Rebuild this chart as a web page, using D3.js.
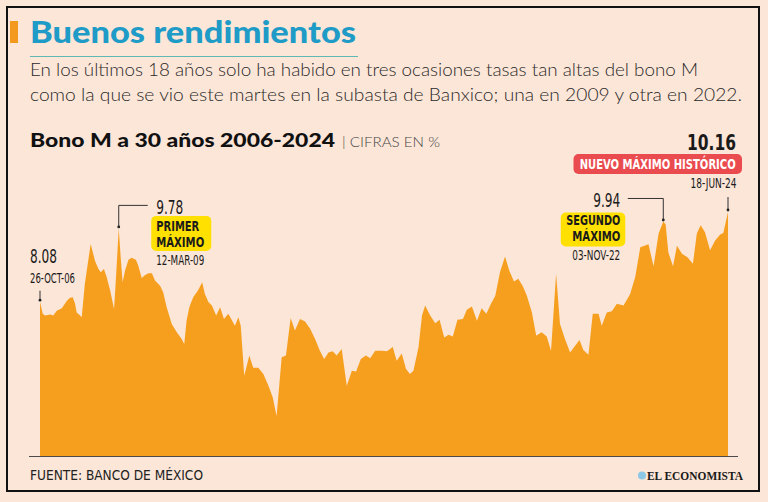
<!DOCTYPE html>
<html lang="es">
<head>
<meta charset="utf-8">
<title>Buenos rendimientos</title>
<script src="https://d3js.org/d3.v7.min.js"></script>
<style>
  body { margin: 0; background: #fce6d8; }
  svg { display: block; }
</style>
</head>
<body>
<script>
// Bono M a 30 años, rendimiento en subasta (%)
var years = [2006.82, 2006.89, 2006.95, 2007.08, 2007.16, 2007.25, 2007.38, 2007.51, 2007.59, 2007.66,
  2007.72, 2007.76, 2007.85, 2007.89, 2007.97, 2008.12, 2008.23, 2008.32, 2008.38, 2008.46,
  2008.53, 2008.62, 2008.72, 2008.77, 2008.84, 2008.89, 2008.94, 2009.00, 2009.09, 2009.17,
  2009.28, 2009.34, 2009.43, 2009.51, 2009.60, 2009.69, 2009.77, 2009.90, 2009.98, 2010.07,
  2010.20, 2010.33, 2010.46, 2010.52, 2010.58, 2010.65, 2010.75, 2010.88, 2010.98, 2011.05,
  2011.14, 2011.23, 2011.34, 2011.44, 2011.54, 2011.65, 2011.75, 2011.82, 2011.91, 2011.97,
  2012.06, 2012.19, 2012.29, 2012.42, 2012.55, 2012.68, 2012.79, 2012.89, 2013.02, 2013.13,
  2013.25, 2013.36, 2013.49, 2013.62, 2013.75, 2013.88, 2014.00, 2014.11, 2014.22, 2014.33,
  2014.43, 2014.56, 2014.69, 2014.82, 2014.93, 2015.05, 2015.18, 2015.29, 2015.42, 2015.59,
  2015.72, 2015.87, 2015.97, 2016.10, 2016.21, 2016.31, 2016.40, 2016.53, 2016.62, 2016.70,
  2016.83, 2016.96, 2017.07, 2017.19, 2017.30, 2017.41, 2017.53, 2017.67, 2017.77, 2017.90,
  2018.03, 2018.15, 2018.27, 2018.39, 2018.50, 2018.62, 2018.75, 2018.86, 2018.98, 2019.09,
  2019.21, 2019.31, 2019.44, 2019.55, 2019.69, 2019.82, 2019.93, 2020.06, 2020.16, 2020.29,
  2020.42, 2020.52, 2020.66, 2020.76, 2020.89, 2021.00, 2021.15, 2021.23, 2021.36, 2021.49,
  2021.62, 2021.79, 2021.96, 2022.09, 2022.22, 2022.43, 2022.56, 2022.69, 2022.81, 2022.87,
  2022.94, 2023.06, 2023.16, 2023.29, 2023.43, 2023.57, 2023.67, 2023.77, 2023.88, 2024.01,
  2024.14, 2024.27, 2024.35, 2024.47];

var yields = [8.08, 7.80, 7.76, 7.78, 7.76, 7.87, 7.93, 8.10, 8.17, 8.18,
  8.03, 7.83, 7.76, 7.72, 8.49, 9.42, 9.03, 8.84, 8.76, 8.84,
  8.65, 8.34, 7.91, 8.65, 9.78, 9.11, 8.53, 8.80, 9.05, 9.10,
  9.05, 8.92, 8.63, 8.69, 8.74, 8.74, 8.57, 8.45, 8.30, 7.95,
  7.56, 7.37, 7.21, 7.10, 7.64, 7.95, 8.18, 8.35, 8.53, 8.26,
  8.07, 7.99, 7.76, 7.95, 7.68, 7.80, 7.64, 7.52, 7.72, 7.52,
  6.36, 6.83, 6.55, 6.55, 6.40, 6.13, 5.86, 5.43, 6.79, 6.83,
  7.70, 7.41, 7.68, 7.62, 7.45, 7.21, 6.94, 6.75, 6.90, 6.93,
  6.83, 6.98, 6.13, 6.48, 6.46, 6.75, 6.83, 6.77, 6.94, 6.94,
  6.93, 7.03, 6.71, 6.88, 6.52, 6.40, 6.48, 7.02, 7.76, 7.99,
  7.76, 7.58, 7.66, 7.25, 7.31, 7.27, 7.66, 7.68, 7.89, 7.97,
  7.64, 7.93, 7.80, 8.03, 8.22, 8.76, 9.13, 8.80, 8.55, 8.61,
  8.43, 8.22, 7.83, 7.29, 7.37, 7.27, 6.94, 8.73, 7.56, 7.21,
  6.90, 7.02, 7.19, 6.96, 6.85, 7.80, 7.80, 7.52, 7.83, 7.86,
  8.03, 7.99, 8.26, 8.65, 9.34, 9.41, 8.90, 9.66, 9.94, 9.87,
  9.22, 8.90, 9.38, 9.19, 9.11, 8.96, 9.66, 9.85, 9.69, 9.27,
  9.50, 9.64, 9.67, 10.16];

// puntos destacados (índice en la serie)
var markIdx = [0, 24, 148, 163];
var markDates = ["26-OCT-06", "12-MAR-09", "03-NOV-22", "18-JUN-24"];
var markTags = [[], ["PRIMER", "MÁXIMO"], ["SEGUNDO", "MÁXIMO"], ["NUEVO MÁXIMO HISTÓRICO"]];

var title = "Buenos rendimientos";
var intro = ["En los últimos 18 años solo ha habido en tres ocasiones tasas tan altas del bono M",
  "como la que se vio este martes en la subasta de Banxico; una en 2009 y otra en 2022."];
var chartTitle = "Bono M a 30 años 2006-2024";
var units = "| CIFRAS EN %";
var source = "FUENTE: BANCO DE MÉXICO";
var brand = "EL ECONOMISTA";

var width = 768, height = 502;
var narrow = "'Liberation Sans Narrow', 'DejaVu Sans Condensed', Roboto, sans-serif";
var geo = "Lato, 'Open Sans', sans-serif";
var fmt = d3.format(".2f");

var svg = d3.select("body").append("svg")
  .attr("width", width).attr("height", height);

svg.append("rect").attr("width", width).attr("height", height).attr("fill", "#fce6d8");
svg.append("rect")
  .attr("x", 7).attr("y", 7).attr("width", 752).attr("height", 484)
  .attr("fill", "#fce6d8").attr("stroke", "#111").attr("stroke-width", 2);

// encabezado
svg.append("rect").attr("x", 10).attr("y", 21).attr("width", 8).attr("height", 22).attr("fill", "#f39a1e");
svg.append("text").text(title)
  .attr("x", 30).attr("y", 43)
  .attr("font-family", geo).attr("font-weight", 900).attr("font-size", 29.5)
  .attr("fill", "#1e9bc6")
  .attr("textLength", 326).attr("lengthAdjust", "spacingAndGlyphs");
svg.append("line").attr("x1", 30).attr("x2", 358).attr("y1", 56.5).attr("y2", 56.5)
  .attr("stroke", "#5fb8b4").attr("stroke-width", 1);

svg.selectAll(".intro").data(intro).enter().append("text")
  .attr("class", "intro")
  .text(function(d) { return d; })
  .attr("x", 30).attr("y", function(d, i) { return 76 + i * 24.5; })
  .attr("font-family", geo).attr("font-weight", 300).attr("font-size", 18)
  .attr("fill", "#2a2a2a")
  .attr("textLength", function(d, i) { return i == 0 ? 668 : 712; })
  .attr("lengthAdjust", "spacingAndGlyphs");

svg.append("text").text(chartTitle)
  .attr("x", 30).attr("y", 147)
  .attr("font-family", geo).attr("font-weight", 900).attr("font-size", 18.5)
  .attr("fill", "#111")
  .attr("textLength", 305).attr("lengthAdjust", "spacingAndGlyphs");
svg.append("text").text(units)
  .attr("x", 342).attr("y", 147)
  .attr("font-family", geo).attr("font-weight", 300).attr("font-size", 14)
  .attr("fill", "#444")
  .attr("textLength", 98).attr("lengthAdjust", "spacingAndGlyphs");

// escalas
var x = d3.scaleLinear().domain([years[0], years[years.length - 1]]).range([40, 728]);
var y = d3.scaleLinear().domain([4.5, 10.16]).range([456, 212]);

var area = d3.area()
  .x(function(d, i) { return x(years[i]); })
  .y0(y(4.5))
  .y1(function(d) { return y(d); });

svg.append("path").datum(yields)
  .attr("d", area)
  .attr("fill", "#f69f1f");

svg.append("line").attr("x1", 29).attr("x2", 738).attr("y1", 456.5).attr("y2", 456.5)
  .attr("stroke", "#4a4a4a").attr("stroke-width", 1);

// anotaciones
function label(txt, px, py, anchor, size, weight, len, color) {
  return svg.append("text").text(txt)
    .attr("x", px).attr("y", py)
    .attr("text-anchor", anchor)
    .attr("font-family", narrow).attr("font-size", size).attr("font-weight", weight)
    .attr("fill", color || "#1a1a1a")
    .attr("textLength", len).attr("lengthAdjust", "spacingAndGlyphs");
}
function dot(px, py) {
  svg.append("circle").attr("cx", px).attr("cy", py).attr("r", 1.4).attr("fill", "#222");
}
function leader(points) {
  svg.append("path").attr("d", d3.line()(points))
    .attr("fill", "none").attr("stroke", "#333").attr("stroke-width", 1);
}
function tagBox(x0, y0, w, h, color) {
  svg.append("rect").attr("x", x0).attr("y", y0).attr("width", w).attr("height", h)
    .attr("rx", 5).attr("fill", color);
}

var pts = markIdx.map(function(i) { return [x(years[i]), y(yields[i])]; });

// 8.08
var p = pts[0];
leader([[p[0], p[1] - 11], [p[0], p[1] - 1.5]]);
dot(p[0], p[1] - 1.5);
label(fmt(yields[markIdx[0]]), p[0] - 10, p[1] - 38.5, "start", 19.5, 400, 27);
label(markDates[0], p[0] - 10, p[1] - 19, "start", 14, 400, 45);

// 9.78
p = pts[1];
leader([[p[0], p[1] - 1.5], [p[0], p[1] - 23], [p[0] + 29, p[1] - 23]]);
dot(p[0], p[1] - 1.5);
label(fmt(yields[markIdx[1]]), p[0] + 37.5, p[1] - 14.5, "start", 19.5, 400, 27);
tagBox(p[0] + 32.5, p[1] - 12.5, 60, 35, "#ffe000");
label(markTags[1][0], p[0] + 37.5, p[1] + 2.5, "start", 14, 700, 43);
label(markTags[1][1], p[0] + 37.5, p[1] + 18.5, "start", 14, 700, 48);
label(markDates[1], p[0] + 37.5, p[1] + 36.5, "start", 14, 400, 48);

// 9.94
p = pts[2];
leader([[p[0], p[1] - 1.5], [p[0], p[1] - 23], [p[0] - 35.5, p[1] - 23]]);
dot(p[0], p[1] - 1.5);
label(fmt(yields[markIdx[2]]), p[0] - 43, p[1] - 14, "end", 19.5, 400, 27);
tagBox(p[0] - 102.5, p[1] - 9, 64.5, 34, "#ffe000");
label(markTags[2][0], p[0] - 43, p[1] + 3.5, "end", 14, 700, 54);
label(markTags[2][1], p[0] - 43, p[1] + 19.5, "end", 14, 700, 48);
label(markDates[2], p[0] - 43, p[1] + 38.5, "end", 14, 400, 48);

// 10.16
p = pts[3];
leader([[p[0], p[1] - 15], [p[0], p[1] - 2]]);
dot(p[0], p[1] - 2);
label(fmt(yields[markIdx[3]]), p[0] + 8, p[1] - 62, "end", 22, 700, 49);
tagBox(p[0] - 154.5, p[1] - 58, 168.5, 20, "#ea4b4e");
label(markTags[3][0], p[0] - 70.3, p[1] - 43, "middle", 14, 700, 156, "#fff");
label(markDates[3], p[0] + 8.5, p[1] - 23.7, "end", 14, 400, 46);

// pie
label(source, 30, 479.5, "start", 13.5, 400, 173, "#222");
svg.append("circle").attr("cx", 642).attr("cy", 475.5).attr("r", 4)
  .attr("fill", "#8cc8e6");
svg.append("text").text(brand)
  .attr("x", 743).attr("y", 479.5).attr("text-anchor", "end")
  .attr("font-family", "'Liberation Serif', serif").attr("font-weight", 700).attr("font-size", 12.5)
  .attr("fill", "#1a1a1a")
  .attr("textLength", 96).attr("lengthAdjust", "spacingAndGlyphs");
</script>
</body>
</html>
